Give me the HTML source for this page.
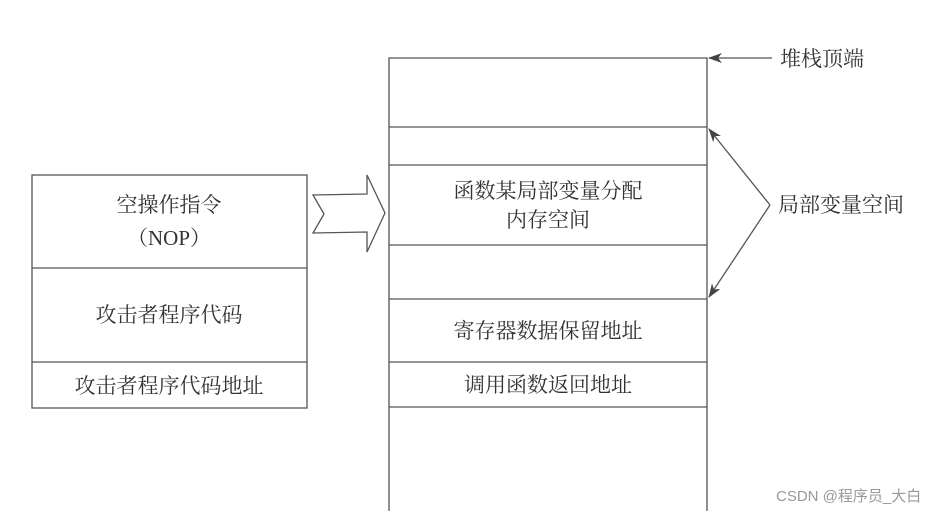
<!DOCTYPE html>
<html><head><meta charset="utf-8"><style>
body{margin:0;background:#fff;}
svg text{font-family:"Liberation Serif","Noto Serif CJK SC",serif;font-size:21px;fill:#333;}
</style></head><body>
<svg width="943" height="511" xmlns="http://www.w3.org/2000/svg">
<defs><marker id="a" markerWidth="14" markerHeight="10" refX="13" refY="5" orient="auto" markerUnits="userSpaceOnUse"><path d="M0,0 L14,5 L0,10 L4,5 Z" fill="#444"/></marker></defs>
<g stroke="#555" stroke-width="1.3" fill="none">
<rect x="32" y="175" width="275" height="233"/>
<line x1="32" y1="268" x2="307" y2="268"/>
<line x1="32" y1="362" x2="307" y2="362"/>
<path d="M389,515 L389,58 L707,58 L707,515"/>
<line x1="389" y1="127" x2="707" y2="127"/>
<line x1="389" y1="165" x2="707" y2="165"/>
<line x1="389" y1="245" x2="707" y2="245"/>
<line x1="389" y1="299" x2="707" y2="299"/>
<line x1="389" y1="362" x2="707" y2="362"/>
<line x1="389" y1="407" x2="707" y2="407"/>
<path d="M313,195 L367,194 L367,175 L385,213 L367,252 L367,232 L313,233 L324,214 Z"/>
<line x1="772" y1="58" x2="709" y2="58" marker-end="url(#a)"/>
<line x1="770" y1="205" x2="709" y2="129" marker-end="url(#a)"/>
<line x1="770" y1="205" x2="709" y2="297" marker-end="url(#a)"/>
</g>
<text x="169" y="212" text-anchor="middle">空操作指令</text>
<text x="169" y="245" text-anchor="middle">（NOP）</text>
<text x="169" y="322" text-anchor="middle">攻击者程序代码</text>
<text x="169" y="393" text-anchor="middle">攻击者程序代码地址</text>
<text x="548" y="198" text-anchor="middle">函数某局部变量分配</text>
<text x="548" y="227" text-anchor="middle">内存空间</text>
<text x="548" y="338" text-anchor="middle">寄存器数据保留地址</text>
<text x="548" y="392" text-anchor="middle">调用函数返回地址</text>
<text x="780" y="66">堆栈顶端</text>
<text x="778" y="212">局部变量空间</text>
<text x="776" y="501" style="font-family:'Liberation Sans','Noto Sans CJK SC',sans-serif;font-size:15px;fill:#999">CSDN @程序员_大白</text>
</svg>
</body></html>
